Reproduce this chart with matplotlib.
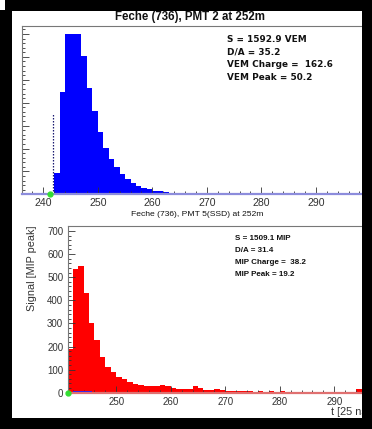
import numpy as np
import matplotlib
matplotlib.use("Agg")
import matplotlib.pyplot as plt
from matplotlib.patches import Rectangle
from matplotlib.ticker import MultipleLocator

# PMT 2 (WCD) trace: one value per 25 ns bin, first bin = 242
pmt2_first_bin = 242
pmt2_signal = [92, 447, 702, 702, 698, 604, 464, 364, 270, 201,
               153, 118, 87, 65, 48, 36, 26, 22, 16, 13,
               10, 7, 5, 4, 3, 2, 2, 1, 1, 1,
               1, 1, 1, 1, 1, 1, 1, 1, 1, 1,
               1, 1, 1, 1, 1, 1, 1, 1, 1, 1,
               1, 1, 1, 1, 1, 1, 1, 1]

# PMT 5 (SSD) trace in MIP-peak units, first bin = 241
ssd_first_bin = 241
ssd_signal = [188, 534, 548, 430, 300, 228, 156, 113, 91, 69,
              58, 48, 37, 33, 30, 29, 29, 32, 29, 19,
              14, 14, 14, 30, 19, 12, 12, 14, 12, 9,
              8, 6, 7, 9, 5, 6, 5, 7, 5, 8,
              4, 5, 4, 5, 4, 3, 4, 5, 3, 4,
              3, 4, 5, 14, 10, 6, 5]

pmt2_title = "Feche (736), PMT 2 at 252m"
ssd_title = "Feche (736), PMT 5(SSD) at 252m"
pmt2_stats = ["S = 1592.9 VEM", "D/A = 35.2", "VEM Charge =  162.6", "VEM Peak = 50.2"]
ssd_stats = ["S = 1509.1 MIP", "D/A = 31.4", "MIP Charge =  38.2", "MIP Peak = 19.2"]

start_time = 241.2          # green start marker
pmt2_cut_time = 241.8       # dotted marker line
pmt2_cut_level = 350
ssd_blue_span = (242.0, 245.6)

top_xlim = (236, 301)
top_ylim = (0, 735)
bot_xlim = (241.14, 298)
bot_ylim = (0, 723)

W, H = 372, 429
FONT = "Liberation Sans"


def px_box(left, top, right, bottom):
    return [left / W, 1 - bottom / H, (right - left) / W, (bottom - top) / H]


def fx(x):
    return x / W


def fy(y):
    return 1 - y / H


fig = plt.figure(figsize=(W / 100, H / 100), dpi=100, facecolor="black")

# white canvas inside the black frame
fig.add_artist(Rectangle((fx(12), fy(418)), fx(362) - fx(12), fy(11) - fy(418),
                         transform=fig.transFigure, facecolor="white",
                         edgecolor="none", zorder=-5))
fig.add_artist(Rectangle((0, fy(10)), fx(5), fy(0) - fy(10),
                         transform=fig.transFigure, facecolor="white",
                         edgecolor="none", zorder=-5))


def style_axes(ax, base_color, label_size, show_ylabels):
    for side in ("top", "left"):
        ax.spines[side].set_color("#777777")
        ax.spines[side].set_linewidth(0.8)
    ax.spines["right"].set_visible(False)
    ax.spines["bottom"].set_color(base_color)
    ax.spines["bottom"].set_linewidth(1.6)
    ax.xaxis.set_major_locator(MultipleLocator(10))
    ax.xaxis.set_minor_locator(MultipleLocator(2))
    ax.yaxis.set_major_locator(MultipleLocator(100))
    ax.yaxis.set_minor_locator(MultipleLocator(20))
    ax.tick_params(which="both", direction="in", color="#333333", width=0.6,
                   top=False, right=False)
    ax.tick_params(which="major", length=5)
    ax.tick_params(which="minor", length=2.5)
    ax.tick_params(axis="x", labelsize=label_size, pad=2.9, labelcolor="#333333")
    ax.tick_params(axis="y", labelsize=7, pad=3.4, labelcolor="#333333",
                   labelleft=show_ylabels)
    for lab in ax.get_xticklabels() + ax.get_yticklabels():
        lab.set_fontfamily(FONT)


# ---- PMT 2 panel ----
ax1 = fig.add_axes(px_box(21.5, 26, 375.75, 194.3))
edges1 = np.arange(pmt2_first_bin, pmt2_first_bin + len(pmt2_signal) + 1)
ax1.stairs(pmt2_signal, edges1, fill=True, color="#0000ff", lw=0)
ax1.vlines(pmt2_cut_time, 0, pmt2_cut_level, colors="#1a1a70",
           linestyles=(0, (1.2, 1.2)), lw=0.9)
ax1.plot([start_time], [0], marker="o", ms=3.5, color="#33dd33", clip_on=False, zorder=5)
ax1.set_xlim(*top_xlim)
ax1.set_ylim(*top_ylim)
style_axes(ax1, "#8c8cdc", 7.6, False)

# ---- PMT 5 (SSD) panel ----
ax2 = fig.add_axes(px_box(68, 225.7, 377.9, 392.7))
edges2 = np.arange(ssd_first_bin, ssd_first_bin + len(ssd_signal) + 1)
ax2.stairs(ssd_signal, edges2, fill=True, color="#ff0000", lw=0)
ax2.plot(ssd_blue_span, [3, 3], color="#2020ff", lw=1.4, solid_capstyle="butt")
ax2.plot([start_time], [0], marker="o", ms=3.5, color="#33dd33", clip_on=False, zorder=5)
ax2.set_xlim(*bot_xlim)
ax2.set_ylim(*bot_ylim)
style_axes(ax2, "#e07070", 7, True)

# axis titles placed in figure coordinates
fig.text(fx(32), fy(268), "Signal [MIP peak]", fontfamily=FONT, fontsize=7.8,
         color="#333333", rotation=90, ha="center", va="center")
fig.text(fx(370), fy(411.7), "t [25 ns]", fontfamily=FONT, fontsize=7.8,
         color="#333333", ha="right", va="center")

# titles
fig.text(fx(190), fy(17), pmt2_title, fontfamily=FONT, fontweight="bold",
         fontsize=8.3, color="#111111", ha="center", va="center")
fig.text(fx(197.5), fy(215), ssd_title, fontfamily=FONT, fontsize=6.1,
         color="#111111", ha="center", va="center")

# statistics boxes
for text, y in zip(pmt2_stats, [39, 52, 64.5, 77]):
    fig.text(fx(227), fy(y), text, fontfamily="DejaVu Sans", fontweight="bold",
             fontsize=6.4, color="#111111", ha="left", va="center")
for text, y in zip(ssd_stats, [238, 250.7, 262.7, 275]):
    fig.text(fx(235), fy(y), text, fontfamily=FONT, fontweight="bold",
             fontsize=5.8, color="#111111", ha="left", va="center")

# right edge of the black frame
fig.add_artist(Rectangle((fx(362), 0), 1 - fx(362), 1, transform=fig.transFigure,
                         facecolor="black", edgecolor="none", zorder=100))

fig.savefig("out.png", dpi=100, facecolor="black")
